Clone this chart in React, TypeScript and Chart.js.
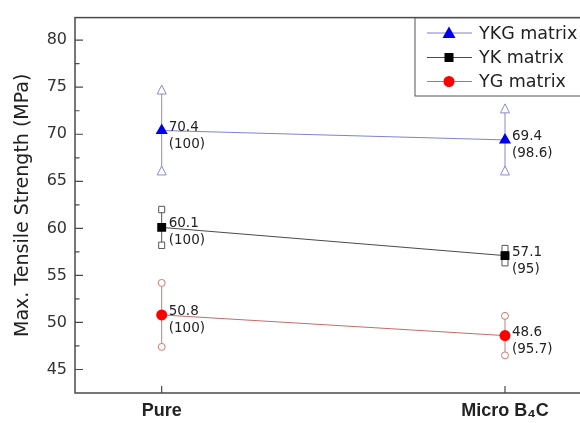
import React, { useEffect, useRef } from "react";
import { Chart, registerables } from "chart.js";
Chart.register(...registerables);

const categories = ["Pure", "Micro B₄C"];
const seriesNames = ["YKG matrix", "YK matrix", "YG matrix"];
const ykg = [70.4, 69.4];
const yk = [60.1, 57.1];
const yg = [50.8, 48.6];
const ykgErr = [4.3, 3.3];
const ykErr = [1.9, 0.75];
const ygErr = [3.4, 2.1];
const ykgPct = ["100", "98.6"];
const ykPct = ["100", "95"];
const ygPct = ["100", "95.7"];
const yTicks = [45, 50, 55, 60, 65, 70, 75, 80];

const FONT = "'DejaVu Sans', Arial, sans-serif";
const XFONT = "'Liberation Sans', Arial, sans-serif";

const series = [
  { name: seriesNames[0], values: ykg, err: ykgErr, pct: ykgPct, line: "#8080d0", mark: "#0000ee", errc: "#8a8ad0", style: "triangle", r: 7 },
  { name: seriesNames[1], values: yk, err: ykErr, pct: ykPct, line: "#4a4a4a", mark: "#000000", errc: "#555555", style: "rect", r: 6.3 },
  { name: seriesNames[2], values: yg, err: ygErr, pct: ygPct, line: "#c86a6a", mark: "#ff0000", errc: "#d07878", style: "circle", r: 5.5 },
];

function drawCap(ctx: CanvasRenderingContext2D, style: string, x: number, y: number, color: string) {
  ctx.save();
  ctx.strokeStyle = color;
  ctx.fillStyle = "#ffffff";
  ctx.lineWidth = 1;
  ctx.beginPath();
  if (style === "triangle") {
    ctx.moveTo(x, y - 5);
    ctx.lineTo(x + 4.5, y + 4);
    ctx.lineTo(x - 4.5, y + 4);
    ctx.closePath();
  } else if (style === "rect") {
    ctx.rect(x - 3, y - 3.2, 6, 6.4);
  } else {
    ctx.arc(x, y, 3.5, 0, Math.PI * 2);
  }
  ctx.fill();
  ctx.stroke();
  ctx.restore();
}

function drawMarker(ctx: CanvasRenderingContext2D, style: string, x: number, y: number, color: string) {
  ctx.save();
  ctx.fillStyle = color;
  ctx.beginPath();
  if (style === "triangle") {
    ctx.moveTo(x, y - 6.5);
    ctx.lineTo(x + 6.5, y + 5);
    ctx.lineTo(x - 6.5, y + 5);
    ctx.closePath();
  } else if (style === "rect") {
    ctx.rect(x - 4.5, y - 4.5, 9, 9);
  } else {
    ctx.arc(x, y, 5.5, 0, Math.PI * 2);
  }
  ctx.fill();
  ctx.restore();
}

const customPlugin = {
  id: "custom",
  beforeDatasetsDraw(chart: any) {
    const ctx = chart.ctx as CanvasRenderingContext2D;
    const xs = chart.scales.x;
    const ys = chart.scales.y;
    series.forEach((s) => {
      s.values.forEach((v, j) => {
        const x = xs.getPixelForValue(j);
        const y1 = ys.getPixelForValue(v + s.err[j]);
        const y2 = ys.getPixelForValue(v - s.err[j]);
        ctx.save();
        ctx.strokeStyle = s.errc;
        ctx.lineWidth = 1;
        ctx.beginPath();
        ctx.moveTo(x, y1);
        ctx.lineTo(x, y2);
        ctx.stroke();
        ctx.restore();
        drawCap(ctx, s.style, x, y1, s.errc);
        drawCap(ctx, s.style, x, y2, s.errc);
      });
    });
  },
  afterDatasetsDraw(chart: any) {
    const ctx = chart.ctx as CanvasRenderingContext2D;
    const xs = chart.scales.x;
    const ys = chart.scales.y;
    const a = chart.chartArea;
    // value labels
    series.forEach((s) => {
      s.values.forEach((v, j) => {
        const x = xs.getPixelForValue(j) + 7;
        const y = ys.getPixelForValue(v);
        ctx.save();
        ctx.fillStyle = "#222";
        ctx.font = `13.5px ${FONT}`;
        ctx.textAlign = "left";
        ctx.textBaseline = "alphabetic";
        ctx.fillText(v.toFixed(1), x, y);
        ctx.fillText(`(${s.pct[j]})`, x, y + 17);
        ctx.restore();
      });
    });
    // frame
    ctx.save();
    ctx.strokeStyle = "#4a4a4a";
    ctx.lineWidth = 1.5;
    ctx.strokeRect(a.left, a.top, a.right - a.left, a.bottom - a.top);
    // inward ticks
    ctx.lineWidth = 1.2;
    ctx.beginPath();
    yTicks.forEach((t) => {
      const y = ys.getPixelForValue(t);
      ctx.moveTo(a.left, y);
      ctx.lineTo(a.left + 8, y);
      if (t + 2.5 < ys.max) {
        const ym = ys.getPixelForValue(t + 2.5);
        ctx.moveTo(a.left, ym);
        ctx.lineTo(a.left + 4.5, ym);
      }
    });
    categories.forEach((_, j) => {
      const x = xs.getPixelForValue(j);
      ctx.moveTo(x, a.bottom);
      ctx.lineTo(x, a.bottom - 7);
    });
    ctx.stroke();
    ctx.restore();
    // legend
    const lx = 415, ly = 18, lw = 300, lh = 78;
    ctx.save();
    ctx.fillStyle = "#fff";
    ctx.fillRect(lx, ly, lw, lh);
    ctx.strokeStyle = "#555";
    ctx.lineWidth = 1;
    ctx.strokeRect(lx, ly, lw, lh);
    const rows = [33, 57.5, 81.5];
    series.forEach((s, i) => {
      const y = rows[i];
      ctx.strokeStyle = s.line;
      ctx.lineWidth = 1;
      ctx.beginPath();
      ctx.moveTo(427, y);
      ctx.lineTo(472, y);
      ctx.stroke();
      drawMarker(ctx, s.style, 449, y, s.mark);
      ctx.fillStyle = "#222";
      ctx.font = `17.5px ${FONT}`;
      ctx.textBaseline = "middle";
      ctx.textAlign = "left";
      ctx.fillText(s.name, 479, y + 1);
    });
    ctx.restore();
  },
};

export default function App() {
  const ref = useRef<HTMLCanvasElement>(null);
  useEffect(() => {
    if (!ref.current) return;
    const chart = new Chart(ref.current, {
      type: "line",
      data: {
        datasets: series.map((s) => ({
          label: s.name,
          data: s.values.map((v, j) => ({ x: j, y: v })),
          borderColor: s.line,
          borderWidth: 1,
          backgroundColor: s.mark,
          pointBackgroundColor: s.mark,
          pointBorderColor: s.mark,
          pointBorderWidth: 0,
          pointStyle: s.style as any,
          pointRadius: s.r,
          tension: 0,
        })),
      },
      options: {
        responsive: false,
        animation: false,
        layout: { padding: { top: 13, right: 20, left: 0, bottom: 0 } },
        plugins: { legend: { display: false }, tooltip: { enabled: false } },
        scales: {
          x: {
            type: "linear",
            min: -0.2525,
            max: 1.335,
            grid: { display: false, drawTicks: false, tickLength: 0 },
            border: { display: false },
            afterBuildTicks: (scale: any) => {
              scale.ticks = categories.map((_, j) => ({ value: j }));
            },
            afterFit: (scale: any) => {
              scale.height = 30;
            },
            ticks: {
              callback: (v: any) => categories[v as number],
              font: { family: XFONT, size: 18, weight: "bold" },
              color: "#222",
              padding: 7,
              maxRotation: 0,
              autoSkip: false,
            },
          },
          y: {
            type: "linear",
            min: 42.5,
            max: 82.4,
            grid: { display: false, drawTicks: false, tickLength: 0 },
            border: { display: false },
            afterBuildTicks: (scale: any) => {
              scale.ticks = yTicks.map((t) => ({ value: t }));
            },
            afterFit: (scale: any) => {
              scale.width = 75;
            },
            ticks: {
              font: { family: FONT, size: 16 },
              color: "#333",
              padding: 8,
              autoSkip: false,
            },
            title: {
              display: true,
              text: "Max. Tensile Strength (MPa)",
              font: { family: FONT, size: 19 },
              color: "#222",
              padding: { top: 12, bottom: 0 },
            },
          },
        },
      },
      plugins: [customPlugin],
    });
    return () => chart.destroy();
  }, []);
  return (
    <div style={{ position: "absolute", left: 0, top: 0, width: 580, height: 423, overflow: "hidden", background: "#fff" }}>
      <canvas ref={ref} width={640} height={423} style={{ display: "block" }} />
    </div>
  );
}
